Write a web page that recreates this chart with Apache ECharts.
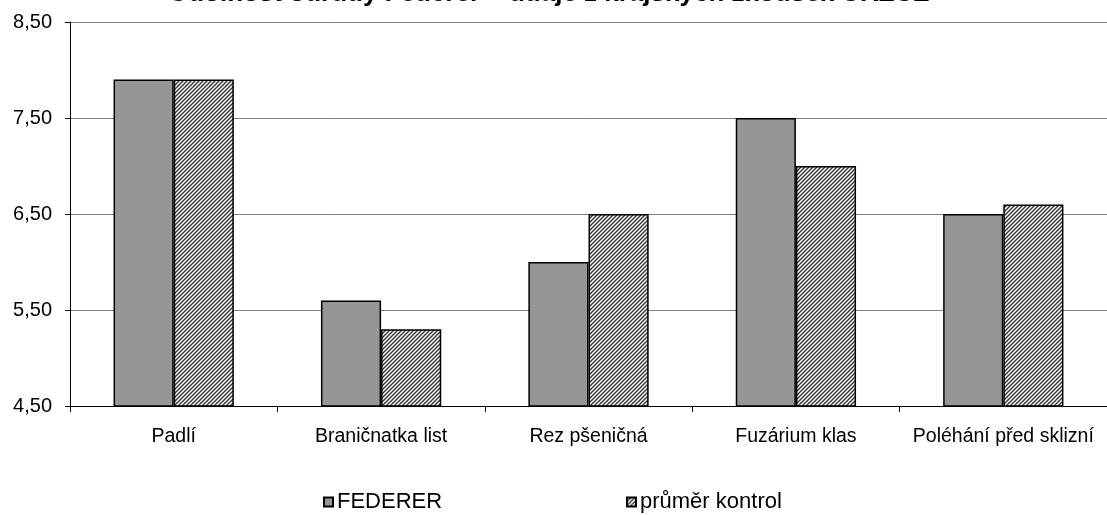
<!DOCTYPE html>
<html><head><meta charset="utf-8">
<script src="https://cdn.jsdelivr.net/npm/echarts@6/dist/echarts.min.js"></script>
<style>html,body{margin:0;padding:0;background:#fff}#c{width:1107px;height:515px}</style>
</head><body><div id="c"></div>
<script>
const categories = ['Padlí', 'Braničnatka list', 'Rez pšeničná', 'Fuzárium klas', 'Poléhání před sklizní'];
const federer = [7.9, 5.6, 6.0, 7.5, 6.5];
const prumerKontrol = [7.9, 5.3, 6.5, 7.0, 6.6];
const seriesNames = ['FEDERER', 'průměr kontrol'];
const titleText = 'Odolnost odrůdy Federer – údaje z krajských zkoušek ÚKZÚZ';

const pc = document.createElement('canvas');
pc.width = 4; pc.height = 4;
const g = pc.getContext('2d');
g.fillStyle = '#fff'; g.fillRect(0,0,4,4);
g.strokeStyle = '#333'; g.lineWidth = 1.4;
g.beginPath();
g.moveTo(-1,5); g.lineTo(5,-1);
g.moveTo(-1,1); g.lineTo(1,-1);
g.moveTo(3,5); g.lineTo(5,3);
g.stroke();

const FONT = 'Liberation Sans';
const legendBase = { top: 491, padding: 0, itemWidth: 9, itemHeight: 9, itemGap: 6, icon: 'rect',
  textStyle: { fontFamily: FONT, fontSize: 22, color: '#000', padding: [0, 0, 0, -1] } };
const chart = echarts.init(document.getElementById('c'));
chart.setOption({
  animation: false,
  textStyle: { fontFamily: FONT },
  title: { text: titleText, left: 163, top: -24,
    textStyle: { fontFamily: FONT, fontSize: 26, fontWeight: 'bold', color: '#000' } },
  legend: [
    Object.assign({}, legendBase, { data: [seriesNames[0]], left: 323 }),
    Object.assign({}, legendBase, { data: [seriesNames[1]], left: 626 })
  ],
  grid: { left: 70, right: 0, top: 22, bottom: 109, containLabel: false },
  xAxis: {
    type: 'category', data: categories,
    axisLine: { lineStyle: { color: '#000', width: 1 } },
    axisTick: { show: true, length: 6, alignWithLabel: false, lineStyle: { color: '#000' } },
    axisLabel: { fontFamily: FONT, fontSize: 19.5, color: '#000', margin: 21, interval: 0 }
  },
  yAxis: {
    type: 'value', min: 4.5, max: 8.5, interval: 1,
    axisLine: { show: true, lineStyle: { color: '#000', width: 1 } },
    axisTick: { show: true, length: 5, lineStyle: { color: '#000' } },
    axisLabel: { fontFamily: FONT, fontSize: 20, color: '#000', margin: 18,
      formatter: v => v.toFixed(2).replace('.', ',') },
    splitLine: { show: true, lineStyle: { color: '#808080', width: 1 } }
  },
  series: [
    { name: seriesNames[0], type: 'bar', data: federer, barGap: '0%', barCategoryGap: '42%',
      itemStyle: { color: '#969696', borderColor: '#000', borderWidth: 1.5 } },
    { name: seriesNames[1], type: 'bar', data: prumerKontrol, barGap: '0%', barCategoryGap: '42%',
      itemStyle: { color: { image: pc, repeat: 'repeat' }, borderColor: '#000', borderWidth: 1.5 } }
  ]
});
</script></body></html>
